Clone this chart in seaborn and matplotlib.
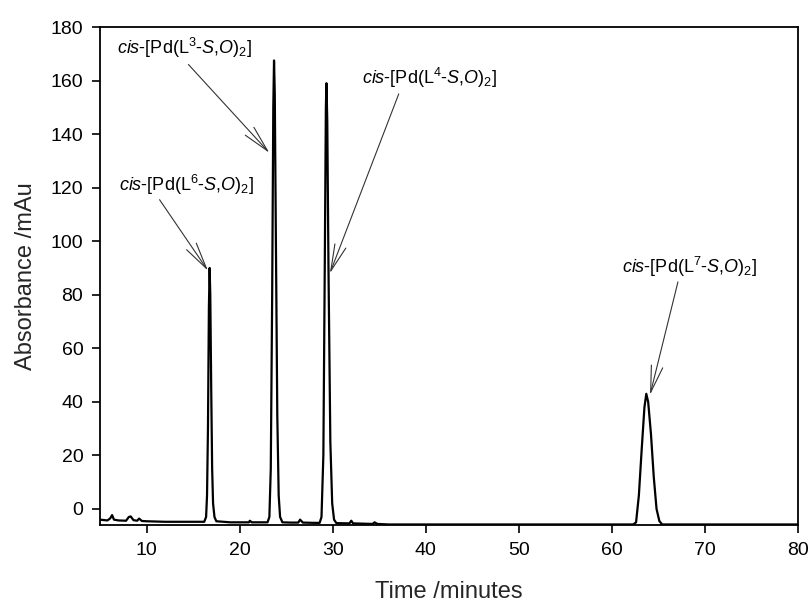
import matplotlib
matplotlib.use("Agg")
import matplotlib.pyplot as plt
import seaborn as sns
import pandas as pd

# Chromatogram trace (time in minutes, absorbance in mAu)
time_min = [
    5.0, 5.8, 6.1, 6.3, 6.5, 7.0, 7.8, 8.1, 8.3, 8.6, 9.0, 9.2, 9.5, 10.0, 12.0, 14.0, 16.0,
    16.2, 16.4, 16.5, 16.6, 16.7, 16.78, 16.85, 16.95, 17.05, 17.15, 17.3, 17.5,
    19.0, 20.0, 21.0, 21.1, 21.3, 22.5,
    23.0, 23.2, 23.35, 23.5, 23.62, 23.7, 23.78, 23.9, 24.05, 24.2, 24.35, 24.6,
    25.5, 26.3, 26.5, 26.8, 28.0,
    28.6, 28.8, 29.0, 29.15, 29.27, 29.33, 29.42, 29.55, 29.75, 29.95, 30.15, 30.4,
    31.8, 32.0, 32.2, 34.3, 34.5, 34.8, 36.0, 45.0, 55.0, 62.0,
    62.3, 62.6, 62.9, 63.2, 63.5, 63.7, 63.9, 64.2, 64.5, 64.8, 65.1, 65.4,
    70.0, 80.0,
]
absorbance_mau = [
    -4.0, -4.3, -3.5, -2.3, -4.0, -4.3, -4.4, -3.0, -2.8, -4.2, -4.4, -3.6, -4.5, -4.6, -4.8, -4.8, -4.8,
    -4.8, -3.0, 5.0, 30.0, 75.0, 90.0, 80.0, 45.0, 15.0, 2.0, -3.0, -4.6,
    -5.0, -5.0, -5.0, -4.4, -5.0, -5.0,
    -5.0, -3.0, 15.0, 80.0, 150.0, 167.5, 155.0, 100.0, 35.0, 5.0, -3.0, -5.0,
    -5.1, -5.1, -4.0, -5.1, -5.2,
    -5.2, -3.0, 20.0, 90.0, 150.0, 159.0, 145.0, 90.0, 25.0, 2.0, -4.0, -5.3,
    -5.4, -4.4, -5.4, -5.6, -5.0, -5.6, -5.8, -5.8, -5.8, -5.8,
    -5.8, -5.0, 5.0, 22.0, 38.0, 43.0, 40.0, 28.0, 12.0, 0.0, -4.5, -5.8,
    -5.8, -5.8,
]

# Peak labels and their annotation geometry (text centre, arrow tail, arrow tip) in data units
peak_labels = [
    r"$\it{cis}$-[Pd(L$^{3}$-$\it{S}$,$\it{O}$)$_{2}$]",
    r"$\it{cis}$-[Pd(L$^{6}$-$\it{S}$,$\it{O}$)$_{2}$]",
    r"$\it{cis}$-[Pd(L$^{4}$-$\it{S}$,$\it{O}$)$_{2}$]",
    r"$\it{cis}$-[Pd(L$^{7}$-$\it{S}$,$\it{O}$)$_{2}$]",
]
label_x = [14.1, 14.3, 40.4, 68.4]
label_y = [172.0, 121.0, 161.0, 90.5]
tail_x = [14.5, 11.4, 37.1, 67.1]
tail_y = [166.0, 115.5, 155.0, 84.8]
tip_x = [23.2, 16.6, 29.7, 64.1]
tip_y = [133.0, 89.0, 88.0, 42.6]

x_ticks = [10, 20, 30, 40, 50, 60, 70, 80]
y_ticks = [0, 20, 40, 60, 80, 100, 120, 140, 160, 180]

sns.set_style("white")
plt.rcParams["font.family"] = ["Liberation Sans", "DejaVu Sans"]
plt.rcParams["mathtext.fontset"] = "custom"
plt.rcParams["mathtext.rm"] = "Liberation Sans"
plt.rcParams["mathtext.it"] = "Liberation Sans:italic"
plt.rcParams["mathtext.bf"] = "Liberation Sans:bold"

fig = plt.figure(figsize=(8.1, 6.05), dpi=100)
ax = fig.add_axes([100 / 810, 1 - 525 / 605, 698 / 810, 498 / 605])

df = pd.DataFrame({"time": time_min, "abs": absorbance_mau})
sns.lineplot(data=df, x="time", y="abs", ax=ax, color="black", linewidth=1.6,
             sort=False, estimator=None)

ax.set_xlim(5, 80)
ax.set_ylim(-6, 180)
ax.set_xticks(x_ticks)
ax.set_yticks(y_ticks)
ax.tick_params(axis="both", direction="out", length=6, width=1.2, labelsize=14,
               bottom=True, left=True, top=False, right=False, colors="black", pad=6)
for s in ax.spines.values():
    s.set_visible(True)
    s.set_color("black")
    s.set_linewidth(1.3)

ax.set_xlabel("Time /minutes", fontsize=17, labelpad=16)
ax.set_ylabel("Absorbance /mAu", fontsize=17, labelpad=10)

for lab, lx, ly, tx, ty, px, py in zip(peak_labels, label_x, label_y, tail_x, tail_y, tip_x, tip_y):
    ax.text(lx, ly, lab, fontsize=13, ha="center", va="center", color="black")
    ax.annotate("", xy=(px, py), xytext=(tx, ty),
                arrowprops=dict(arrowstyle="->,head_length=1.6,head_width=0.35",
                                color="#333333", lw=0.8, mutation_scale=12,
                                shrinkA=0, shrinkB=0))

fig.savefig("out.png", dpi=100)
